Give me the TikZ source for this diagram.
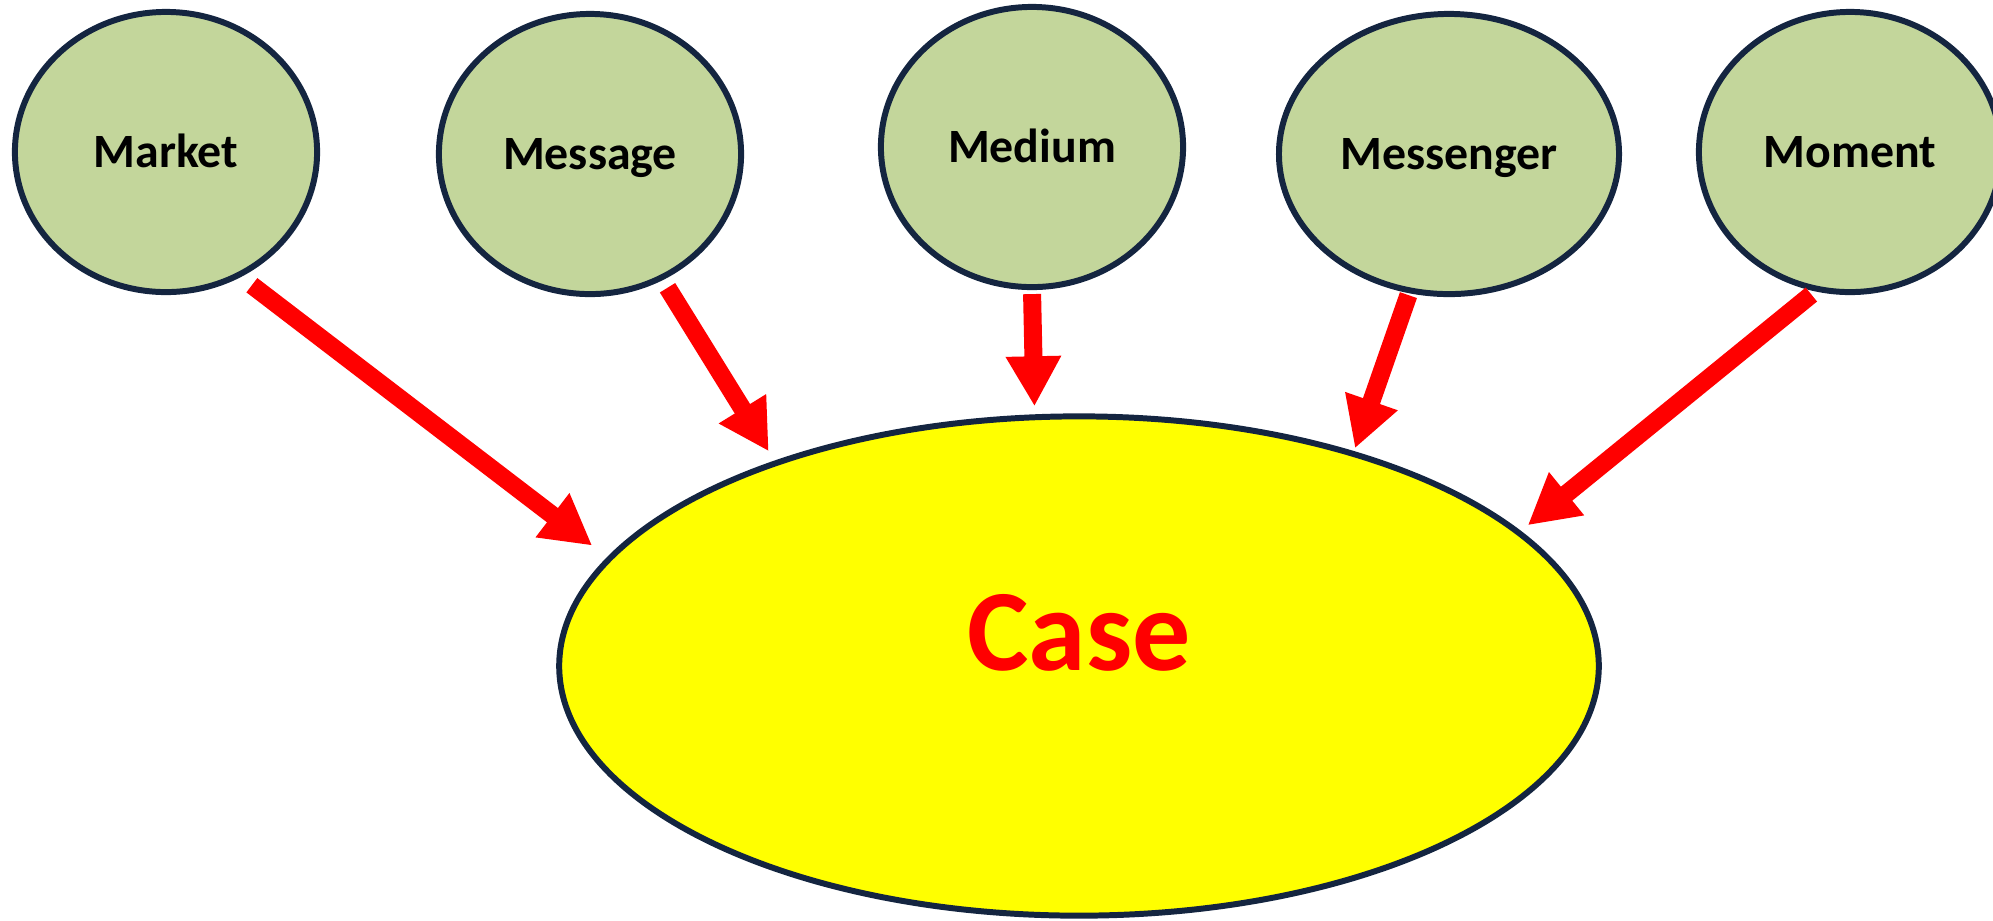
\documentclass[tikz,border=0pt]{standalone}
\usepackage{fontspec}
\setmainfont{Carlito}
\usetikzlibrary{shapes.geometric, arrows.meta}
\definecolor{leaf}{RGB}{195,214,155}
\definecolor{rim}{RGB}{20,37,64}
\definecolor{sun}{RGB}{255,255,0}

\begin{document}
\begin{tikzpicture}[x=0.01cm, y=-0.01cm,
		main/.style = {draw=rim, fill=leaf, ellipse, line width=1.7pt, minimum width=3.02cm, minimum height=2.8cm, font=\bfseries\fontsize{13.6}{15}\selectfont, text height=0.3cm, text depth=0cm},
		core/.style = {draw=rim, fill=sun, ellipse, line width=1.7pt, minimum width=10.39cm, minimum height=4.99cm, text=red, font=\bfseries\fontsize{33}{38}\selectfont, text height=0.75cm, text depth=0.67cm},
		arr/.style = {red, line width=0.18cm, -{Triangle[width=0.52cm, length=0.5cm]}}]
			\useasboundingbox (0,0) rectangle (1993,920);
			\node[core] (6) at (1079,666) {Case};
			\node[main] (1) at (166,152) {Market};
			\node[main] (2) at (590,154) {Message};
			\node[main] (3) at (1032,147) {Medium};
			\node[main] (4) at (1449,154) {Messenger};
			\node[main] (5) at (1850,152) {Moment};
			\draw[arr, shorten <=0.136cm, shorten >=0.19cm] (1.-59.5) -- (6.167.6);
			\draw[arr, shorten <=0.09cm, shorten >=0.11cm] (2.-60.4) -- (6.146.2);
			\draw[arr, shorten <=0.04cm, shorten >=0.08cm] (3.-90) -- (6.100.4);
			\draw[arr, shorten <=0.02cm, shorten >=0.03cm] (4.-106) -- (6.38.6);
			\draw[arr, shorten <=0.05cm, shorten >=0.09cm] (5.-104.4) -- (6.17.4);
		\end{tikzpicture}
\end{document}
